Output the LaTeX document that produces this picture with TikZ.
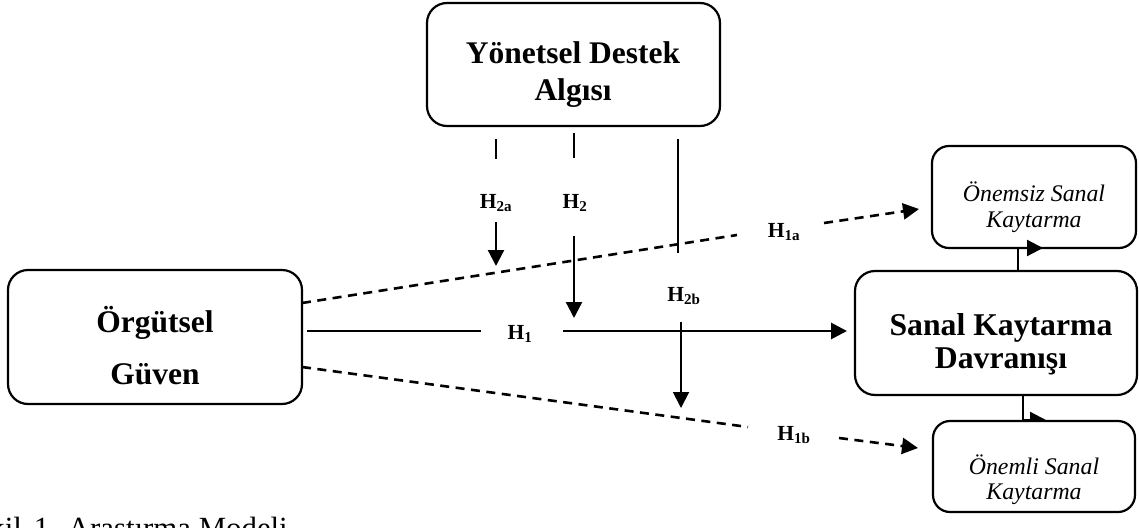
\documentclass[tikz,border=0pt]{standalone}
\usepackage{fontspec}
\setmainfont{Liberation Serif}
\usetikzlibrary{arrows.meta}
\begin{document}
\begin{tikzpicture}[x=1pt,y=-1pt,
  box/.style={draw, line width=2.2pt, rounded corners=20pt, fill=white, inner sep=0pt},
  sbox/.style={box, rounded corners=17pt},
  ttl/.style={font=\fontsize{31.5}{37}\selectfont\bfseries, align=center, inner sep=0pt},
  sub/.style={font=\fontsize{23.8}{26}\selectfont\itshape, align=center, inner sep=0pt},
  hyp/.style={font=\fontsize{21.5}{25}\selectfont\bfseries, inner sep=0pt, anchor=base},
  conn/.style={line width=2.3pt},
  dsh/.style={line width=2.6pt, dash pattern=on 9pt off 6.5pt},
  tip/.style={-{Triangle[length=16pt,width=16pt]}},
]
\useasboundingbox (0,0) rectangle (1139,527);
\clip (0,0) rectangle (1139,527);

% named points on the connectors
\coordinate (h1s) at (307,331);
\coordinate (h1e) at (481,331);
\coordinate (h1r) at (563,331);
\coordinate (h1t) at (847,331);
\coordinate (h2s) at (574,133);
\coordinate (h2m) at (574,158);
\coordinate (h2r) at (574,236);
\coordinate (h2t) at (574,318);
\coordinate (h2as) at (496,139);
\coordinate (h2am) at (496,159);
\coordinate (h2ar) at (496,222);
\coordinate (h2at) at (496,266);
\coordinate (h2bs) at (678,139);
\coordinate (h2bm) at (678,253);
\coordinate (h2br) at (681,322);
\coordinate (h2bt) at (681,408);
\coordinate (h1as) at (302,303);
\coordinate (h1am) at (737,235);
\coordinate (h1ar) at (824,223);
\coordinate (h1at) at (919,209);
\coordinate (h1bs) at (302,367);
\coordinate (h1bm) at (748,427);
\coordinate (h1br) at (839,438);
\coordinate (h1bt) at (918,448);
\coordinate (skb) at (1023,395);
\coordinate (onlt) at (1046,420);
\coordinate (skt) at (1018,270);
\coordinate (onzt) at (1043,248);

% hypothesis labels
\node[hyp] (lh1) at (520,339) {H\textsubscript{1}};
\node[hyp] (lh2) at (575,208) {H\textsubscript{2}};
\node[hyp] (lh2a) at (496,208) {H\textsubscript{2a}};
\node[hyp] (lh2b) at (684,301) {H\textsubscript{2b}};
\node[hyp] (lh1a) at (784,237) {H\textsubscript{1a}};
\node[hyp] (lh1b) at (794,440) {H\textsubscript{1b}};

% connectors
\draw[conn, line width=2.8pt] (h1s) -- (h1e);
\draw[conn, line width=2.8pt, tip] (h1r) -- (h1t);
\draw[conn] (h2s) -- (h2m);
\draw[conn, tip] (h2r) -- (h2t);
\draw[conn] (h2as) -- (h2am);
\draw[conn, tip] (h2ar) -- (h2at);
\draw[line width=1.9pt] (h2bs) -- (h2bm);
\draw[line width=1.9pt, tip] (h2br) -- (h2bt);
\draw[dsh] (h1as) -- (h1am);
\draw[dsh, tip] (h1ar) -- (h1at);
\draw[dsh] (h1bs) -- (h1bm);
\draw[dsh, tip] (h1br) -- (h1bt);
\draw[conn, tip] (skb) |- (onlt);

% boxes
\node[box, minimum width=293pt, minimum height=123pt] (yd) at (573.5,64.5) {};
\node[ttl] (ydt) at (573,75) {Yönetsel Destek\\Algısı};
\node[box, minimum width=294pt, minimum height=134pt] (og) at (155,337) {};
\node[ttl, font=\fontsize{31.5}{52}\selectfont\bfseries] (ogt) at (155,346) {Örgütsel\\Güven};
\node[box, minimum width=282pt, minimum height=124pt] (sk) at (996,333) {};
\node[ttl, font=\fontsize{31.7}{33}\selectfont\bfseries] (skt2) at (1001,344) {Sanal Kaytarma\\Davranışı};
\node[sbox, minimum width=204pt, minimum height=102pt] (onz) at (1034,197) {};
\node[sub] (onzt2) at (1034,207) {Önemsiz Sanal\\Kaytarma};
\node[sbox, minimum width=202pt, minimum height=91pt] (onl) at (1034,466.5) {};
\node[sub, font=\fontsize{23.8}{25}\selectfont\itshape] (onlt2) at (1034,480) {Önemli Sanal\\Kaytarma};

\draw[conn, tip] (skt) |- (onzt);

% caption (cut off by the page edges, as in the reference)
\node[font=\fontsize{30.8}{36}\selectfont, inner sep=0pt, anchor=base east] (cap) at (288,538) {Şekil\hspace*{12pt}1.\hspace*{11pt}Araştırma Modeli};
\end{tikzpicture}
\end{document}
